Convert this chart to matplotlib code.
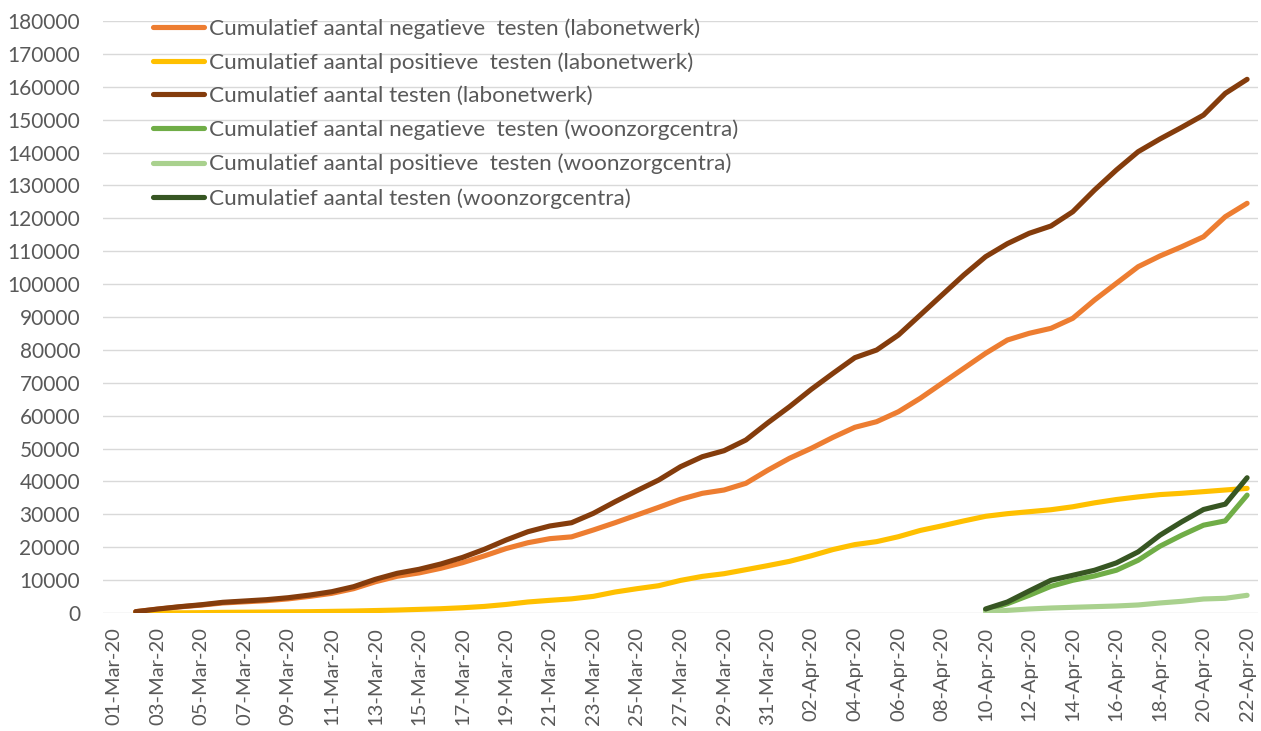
import numpy as np
import pandas as pd
import matplotlib
matplotlib.use("Agg")
import matplotlib.pyplot as plt

# ---- data ----
dates = pd.date_range("2020-03-01", "2020-04-22", freq="D")
date_labels = [d.strftime("%d-%b-%y") for d in dates]

lab_start = "2020-03-02"
lab_negative = [400, 1150, 1850, 2400, 3050, 3400, 3750, 4300, 5070, 5980,
                7400, 9500, 11170, 12180, 13600, 15300, 17370, 19600, 21370, 22600,
                23150, 25240, 27460, 29800, 32140, 34570, 36390, 37400, 39430, 43400,
                47040, 50070, 53420, 56460, 58170, 61200, 65280, 69840, 74400, 78960,
                83000, 85040, 86560, 89600, 95170, 100240, 105290, 108550, 111370, 114400,
                120500, 124570]
lab_positive = [0, 50, 50, 100, 200, 250, 300, 350, 400, 500,
                600, 750, 900, 1100, 1300, 1600, 2000, 2600, 3350, 3850,
                4300, 5060, 6380, 7390, 8300, 9910, 11130, 11950, 13170, 14400,
                15700, 17400, 19300, 20800, 21700, 23200, 25100, 26500, 28000, 29400,
                30200, 30800, 31400, 32300, 33500, 34500, 35300, 36000, 36400, 36900,
                37400, 37900]
lab_total = [400, 1200, 1900, 2500, 3250, 3650, 4050, 4650, 5470, 6480,
             8000, 10250, 12070, 13280, 14900, 16900, 19370, 22200, 24720, 26450,
             27450, 30300, 33840, 37190, 40440, 44480, 47520, 49350, 52600, 57800,
             62720, 68000, 72880, 77630, 79960, 84520, 90600, 96690, 102770, 108340,
             112300, 115450, 117670, 122000, 128610, 134690, 140260, 144120, 147680, 151400,
             158010, 162270]

wzc_start = "2020-04-10"
wzc_negative = [800, 2840, 5380, 8120, 9950, 11270, 13000, 16040, 20300, 23650, 26700, 28020, 35840]
wzc_positive = [300, 800, 1220, 1520, 1730, 1930, 2130, 2440, 3050, 3550, 4260, 4470, 5380]
wzc_total = [1220, 3350, 6700, 9950, 11470, 13000, 15230, 18580, 23650, 27720, 31470, 33100, 41120]

series = [
    ("Cumulatief aantal negatieve  testen (labonetwerk)", lab_start, lab_negative, "#ED7D31"),
    ("Cumulatief aantal positieve  testen (labonetwerk)", lab_start, lab_positive, "#FFC000"),
    ("Cumulatief aantal testen (labonetwerk)", lab_start, lab_total, "#843C0C"),
    ("Cumulatief aantal negatieve  testen (woonzorgcentra)", wzc_start, wzc_negative, "#70AD47"),
    ("Cumulatief aantal positieve  testen (woonzorgcentra)", wzc_start, wzc_positive, "#A9D18E"),
    ("Cumulatief aantal testen (woonzorgcentra)", wzc_start, wzc_total, "#375623"),
]

# ---- plot ----
plt.rcParams["font.family"] = ["Lato", "DejaVu Sans"]
fig = plt.figure(figsize=(12.61, 7.31), dpi=100)
ax = fig.add_axes([103 / 1261, 1 - 613 / 731, 1155 / 1261, 592 / 731])

for label, start, vals, color in series:
    i0 = dates.get_loc(pd.Timestamp(start))
    x = np.arange(i0, i0 + len(vals))
    ax.plot(x, vals, color=color, lw=3.7, label=label,
            solid_capstyle="round", solid_joinstyle="round")

ax.set_xlim(-0.5, len(dates) - 0.5)
ax.set_ylim(0, 180000)
ax.set_yticks(np.arange(0, 180001, 10000))
ax.set_xticks(np.arange(0, len(dates), 2))
ax.set_xticklabels(date_labels[::2], rotation=90)
ax.yaxis.grid(True, color="#D9D9D9", lw=1.0)
ax.set_axisbelow(True)
for s in ax.spines.values():
    s.set_visible(False)
ax.tick_params(axis="x", length=0, labelsize=14.5, colors="#595959", pad=10)
ax.tick_params(axis="y", length=0, labelsize=15, colors="#595959", pad=16.5)

leg = ax.legend(loc="upper left", bbox_to_anchor=(0.0429, 1.005), frameon=False,
                fontsize=16.2, handlelength=2.27, handletextpad=0.24,
                labelspacing=0.6, borderpad=0, borderaxespad=0)
for t in leg.get_texts():
    t.set_color("#595959")

fig.savefig("out.png", dpi=100)
